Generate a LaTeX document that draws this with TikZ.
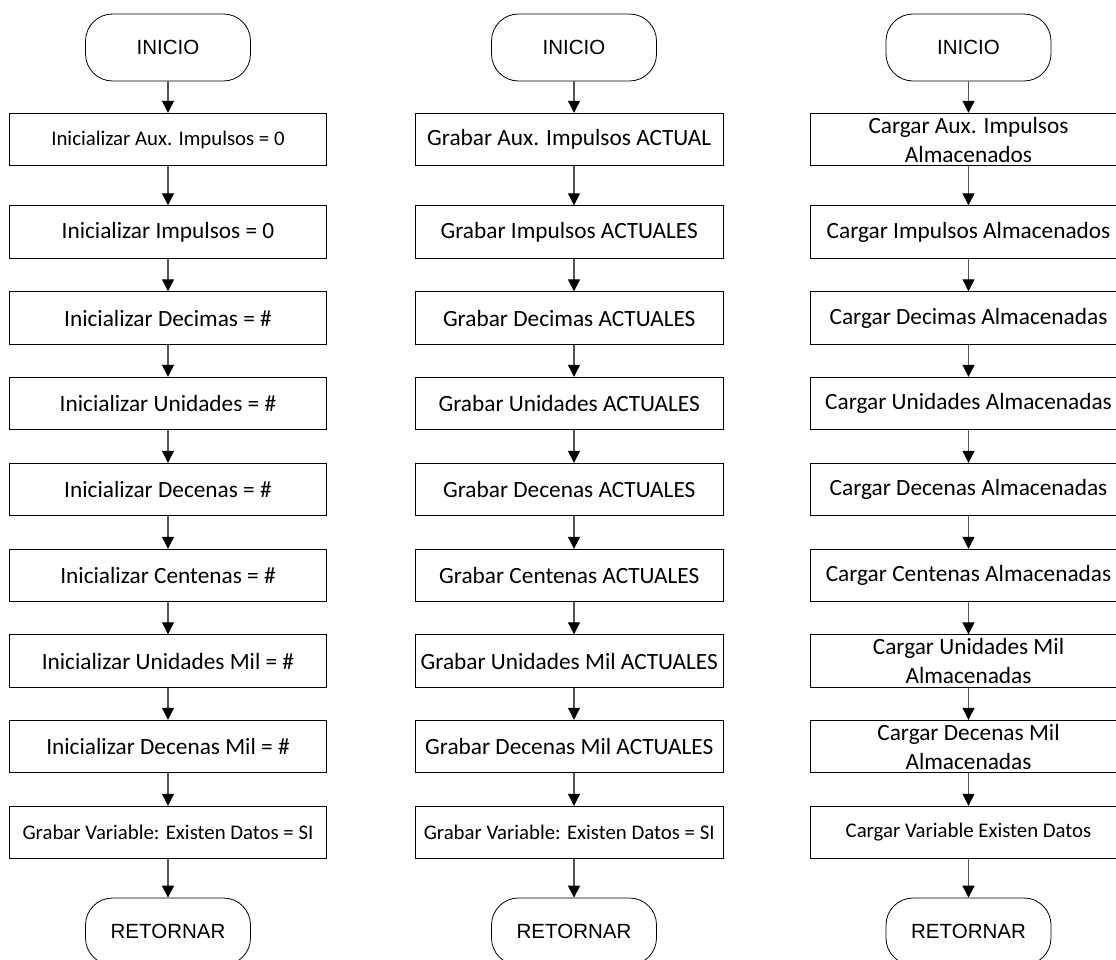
\documentclass[tikz,border=0pt]{standalone}
\usepackage{fontspec}
\setmainfont{Carlito}
\newfontfamily\termfont{Liberation Sans}
\usetikzlibrary{arrows.meta}
\definecolor{flowgray}{RGB}{85,85,85}
\tikzset{
  x=1pt, y=-1pt,
  proc/.style={draw=black, line width=0.9pt, minimum height=52.5pt,
    minimum width=317pt, inner sep=0pt, align=center,
    font=\fontsize{23.3}{29}\selectfont},
  procsmall/.style={proc, font=\fontsize{20.8}{25}\selectfont},
  procnarrow/.style={proc, minimum width=308.3pt},
  procnarrowsmall/.style={procsmall, minimum width=308.3pt},
  term/.style={draw=black, line width=0.8pt, rounded corners=27pt,
    minimum width=165pt, minimum height=67pt, inner sep=0pt,
    font=\termfont\fontsize{20.5}{24}\selectfont},
  flow/.style={draw=flowgray, line width=1.1pt,
    -{Triangle[length=12pt,width=12pt,color=black]}},
}
\begin{document}
\begin{tikzpicture}
\useasboundingbox (0,0) rectangle (1116,960);
\clip (0,0) rectangle (1116,960);

% ---- column 1: inicializar ----
\node[term] (a0) at (168,47.5) {INICIO};
\node[procsmall] (a1) at (168,139.5) {Inicializar Aux. Impulsos = 0};
\node[proc] (a2) at (168,232) {Inicializar Impulsos = 0};
\node[proc] (a3) at (168,318) {Inicializar Decimas = \#};
\node[proc] (a4) at (168,403.5) {Inicializar Unidades = \#};
\node[proc] (a5) at (168,489.5) {Inicializar Decenas = \#};
\node[proc] (a6) at (168,575.5) {Inicializar Centenas = \#};
\node[proc] (a7) at (168,661) {Inicializar Unidades Mil = \#};
\node[proc] (a8) at (168,746.5) {Inicializar Decenas Mil = \#};
\node[procsmall] (a9) at (168,832.5) {Grabar Variable: Existen Datos = SI};
\node[term] (a10) at (168,931.5) {RETORNAR};
\foreach \i [evaluate=\i as \j using int(\i+1)] in {0,...,9}
  \draw[flow] (a\i.south) -- (a\j.north);

% ---- column 2: grabar ----
\node[term] (b0) at (574,47.5) {INICIO};
\node[procnarrow] (b1) at (569.2,139.5) {Grabar Aux. Impulsos ACTUAL};
\node[procnarrow] (b2) at (569.2,232) {Grabar Impulsos ACTUALES};
\node[procnarrow] (b3) at (569.2,318) {Grabar Decimas ACTUALES};
\node[procnarrow] (b4) at (569.2,403.5) {Grabar Unidades ACTUALES};
\node[procnarrow] (b5) at (569.2,489.5) {Grabar Decenas ACTUALES};
\node[procnarrow] (b6) at (569.2,575.5) {Grabar Centenas ACTUALES};
\node[procnarrow] (b7) at (569.2,661) {Grabar Unidades Mil ACTUALES};
\node[procnarrow] (b8) at (569.2,746.5) {Grabar Decenas Mil ACTUALES};
\node[procnarrowsmall] (b9) at (569.2,832.5) {Grabar Variable: Existen Datos = SI};
\node[term] (b10) at (574,931.5) {RETORNAR};
\draw[flow] (b0.south) -- ([xshift=4.8pt]b1.north);
\foreach \i [evaluate=\i as \j using int(\i+1)] in {1,...,8}
  \draw[flow] ([xshift=4.8pt]b\i.south) -- ([xshift=4.8pt]b\j.north);
\draw[flow] ([xshift=4.8pt]b9.south) -- (b10.north);

% ---- column 3: cargar ----
\node[term] (c0) at (968.5,47.5) {INICIO};
\node[proc] (c1) at (968.5,139.5) {Cargar Aux. Impulsos\\Almacenados};
\node[proc] (c2) at (968.5,232) {Cargar Impulsos Almacenados};
\node[proc] (c3) at (968.5,318) {Cargar Decimas Almacenadas};
\node[proc] (c4) at (968.5,403.5) {Cargar Unidades Almacenadas};
\node[proc] (c5) at (968.5,489.5) {Cargar Decenas Almacenadas};
\node[proc] (c6) at (968.5,575.5) {Cargar Centenas Almacenadas};
\node[proc] (c7) at (968.5,661) {Cargar Unidades Mil\\Almacenadas};
\node[proc] (c8) at (968.5,746.5) {Cargar Decenas Mil\\Almacenadas};
\node[procsmall] (c9) at (968.5,832.5) {Cargar Variable Existen Datos};
\node[term] (c10) at (968.5,931.5) {RETORNAR};
\foreach \i [evaluate=\i as \j using int(\i+1)] in {0,...,9}
  \draw[flow] (c\i.south) -- (c\j.north);
\end{tikzpicture}
\end{document}
